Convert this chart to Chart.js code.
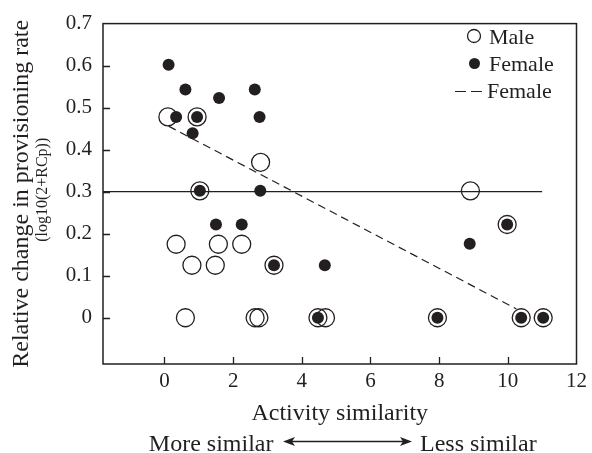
<!DOCTYPE html>
<html>
<head>
<meta charset="utf-8">
<script src="https://cdn.jsdelivr.net/npm/chart.js@4.4.0/dist/chart.umd.min.js"></script>
<style>
  html, body { margin: 0; padding: 0; background: #fff; }
  #wrap { width: 592px; height: 453px; }
</style>
</head>
<body>
<div id="wrap"><canvas id="chart" width="592" height="453"></canvas></div>
<script>
// Activity similarity vs relative change in provisioning rate

const maleX = [0.10, 0.95, 2.80, 1.03, 8.91, 0.34, 1.57, 2.25, 0.80, 1.48, 3.19, 9.98, 0.61, 2.64, 2.75, 4.47, 4.69, 7.95, 10.39, 11.03];
const maleY = [0.478, 0.478, 0.370, 0.302, 0.302, 0.175, 0.175, 0.175, 0.125, 0.125, 0.125, 0.222, 0, 0, 0, 0, 0, 0, 0, 0];

const femaleX = [0.12, 0.61, 1.59, 2.63, 0.34, 0.95, 2.77, 0.82, 1.03, 2.79, 1.50, 2.25, 3.19, 4.67, 8.89, 9.98, 4.47, 7.95, 10.39, 11.03];
const femaleY = [0.602, 0.543, 0.523, 0.543, 0.478, 0.478, 0.478, 0.439, 0.302, 0.302, 0.222, 0.222, 0.125, 0.125, 0.176, 0.222, 0, 0, 0, 0];

// female regression (dashed) and reference level (solid)
const fitX = [0.12, 10.25];
const fitY = [0.456, 0.021];
const refX = [-1.79, 11];
const refY = [0.3, 0.3];

const xRange = [-1.79, 12];
const yRange = [-0.11, 0.7];
const xTicks = [0, 2, 4, 6, 8, 10, 12];
const yTicks = [0, 0.1, 0.2, 0.3, 0.4, 0.5, 0.6, 0.7];

const INK = '#231f20';
const SERIF = "'Liberation Serif', 'Times New Roman', serif";

const toPoints = (xs, ys) => xs.map((x, i) => ({ x: x, y: ys[i] }));

// box round the plot area and inward tick marks
const framePlugin = {
    id: 'frame',
    afterDraw(chart) {
        const { ctx, chartArea: a, scales } = chart;
        ctx.save();
        ctx.strokeStyle = INK;
        ctx.lineWidth = 1.5;
        ctx.strokeRect(a.left, a.top, a.right - a.left, a.bottom - a.top);
        ctx.lineWidth = 1.3;
        ctx.beginPath();
        xTicks.forEach(v => {
            const px = Math.round(scales.x.getPixelForValue(v)) + 0.5;
            if (px < a.right - 2) {
                ctx.moveTo(px, a.bottom);
                ctx.lineTo(px, a.bottom - 7);
            }
        });
        yTicks.forEach(v => {
            const py = Math.round(scales.y.getPixelForValue(v)) + 0.5;
            if (py > a.top + 2) {
                ctx.moveTo(a.left, py);
                ctx.lineTo(a.left + 7, py);
            }
        });
        ctx.stroke();
        ctx.restore();
    }
};

// axis titles, direction arrow and legend
const textPlugin = {
    id: 'texts',
    afterDraw(chart) {
        const { ctx, chartArea: a } = chart;
        const midY = (a.top + a.bottom) / 2;
        const midX = (a.left + a.right) / 2;
        ctx.save();
        ctx.fillStyle = INK;
        ctx.strokeStyle = INK;

        // y title, two lines
        ctx.save();
        ctx.translate(27.5, midY);
        ctx.rotate(-Math.PI / 2);
        ctx.textAlign = 'center';
        ctx.textBaseline = 'alphabetic';
        ctx.font = '24px ' + SERIF;
        ctx.fillText('Relative change in provisioning rate', 0, 0);
        ctx.font = '16px ' + SERIF;
        ctx.fillText('(log10(2+RCp))', 4, 19);
        ctx.restore();

        // x title
        ctx.textAlign = 'center';
        ctx.textBaseline = 'alphabetic';
        ctx.font = '24px ' + SERIF;
        ctx.fillText('Activity similarity', midX, 419.5);

        // More similar <-> Less similar
        ctx.textAlign = 'right';
        ctx.fillText('More similar', 273.5, 450.5);
        ctx.textAlign = 'left';
        ctx.fillText('Less similar', 420, 450.5);
        const ay = 441.5, ax0 = 283, ax1 = 412;
        ctx.lineWidth = 1.3;
        ctx.beginPath();
        ctx.moveTo(ax0 + 4, ay);
        ctx.lineTo(ax1 - 4, ay);
        ctx.stroke();
        ctx.beginPath();
        ctx.moveTo(ax0, ay);
        ctx.lineTo(ax0 + 12, ay - 4.5);
        ctx.lineTo(ax0 + 9, ay);
        ctx.lineTo(ax0 + 12, ay + 4.5);
        ctx.closePath();
        ctx.moveTo(ax1, ay);
        ctx.lineTo(ax1 - 12, ay - 4.5);
        ctx.lineTo(ax1 - 9, ay);
        ctx.lineTo(ax1 - 12, ay + 4.5);
        ctx.closePath();
        ctx.fill();

        // legend
        ctx.font = '22px ' + SERIF;
        ctx.textAlign = 'left';
        ctx.lineWidth = 1.3;
        ctx.beginPath();
        ctx.arc(474, 36, 6.5, 0, Math.PI * 2);
        ctx.stroke();
        ctx.fillText('Male', 489, 43.5);
        ctx.beginPath();
        ctx.arc(474.5, 63.5, 5.5, 0, Math.PI * 2);
        ctx.fill();
        ctx.fillText('Female', 489, 70.5);
        ctx.lineWidth = 1.2;
        ctx.beginPath();
        ctx.moveTo(455, 91.5); ctx.lineTo(466, 91.5);
        ctx.moveTo(471, 91.5); ctx.lineTo(482, 91.5);
        ctx.stroke();
        ctx.fillText('Female', 487, 97.5);
        ctx.restore();
    }
};

new Chart(document.getElementById('chart'), {
    type: 'scatter',
    data: {
        datasets: [
            {
                label: 'Female',
                data: toPoints(femaleX, femaleY),
                order: 0,
                pointRadius: 6,
                pointBorderWidth: 0,
                pointBackgroundColor: INK,
                pointBorderColor: INK
            },
            {
                label: 'Male',
                data: toPoints(maleX, maleY),
                order: 1,
                pointRadius: 9,
                pointBorderWidth: 1.3,
                pointBackgroundColor: 'rgba(0,0,0,0)',
                pointBorderColor: INK
            },
            {
                type: 'line',
                label: 'Female fit',
                data: toPoints(fitX, fitY),
                order: 2,
                borderColor: INK,
                borderWidth: 1.2,
                borderDash: [8, 5],
                pointRadius: 0,
                fill: false
            },
            {
                type: 'line',
                label: 'Reference',
                data: toPoints(refX, refY),
                order: 3,
                borderColor: INK,
                borderWidth: 1.3,
                pointRadius: 0,
                fill: false
            }
        ]
    },
    options: {
        responsive: false,
        animation: false,
        events: [],
        layout: { padding: { left: 0, top: 18, right: 14, bottom: 0 } },
        plugins: {
            legend: { display: false },
            tooltip: { enabled: false }
        },
        scales: {
            x: {
                type: 'linear',
                min: xRange[0],
                max: xRange[1],
                grid: { display: false, drawTicks: false, tickLength: 0 },
                border: { display: false },
                afterBuildTicks: s => { s.ticks = xTicks.map(v => ({ value: v })); },
                afterFit: s => { s.height = 89; },
                ticks: {
                    color: INK,
                    padding: 5,
                    maxRotation: 0,
                    font: { family: SERIF, size: 21 },
                    callback: v => String(v)
                }
            },
            y: {
                type: 'linear',
                min: yRange[0],
                max: yRange[1],
                grid: { display: false, drawTicks: false, tickLength: 0 },
                border: { display: false },
                afterBuildTicks: s => { s.ticks = yTicks.map(v => ({ value: v })); },
                afterFit: s => { s.width = 103; },
                ticks: {
                    color: INK,
                    padding: 11,
                    font: { family: SERIF, size: 21 },
                    callback: v => (v === 0 ? '0' : v.toFixed(1))
                }
            }
        }
    },
    plugins: [framePlugin, textPlugin]
});
</script>
</body>
</html>
